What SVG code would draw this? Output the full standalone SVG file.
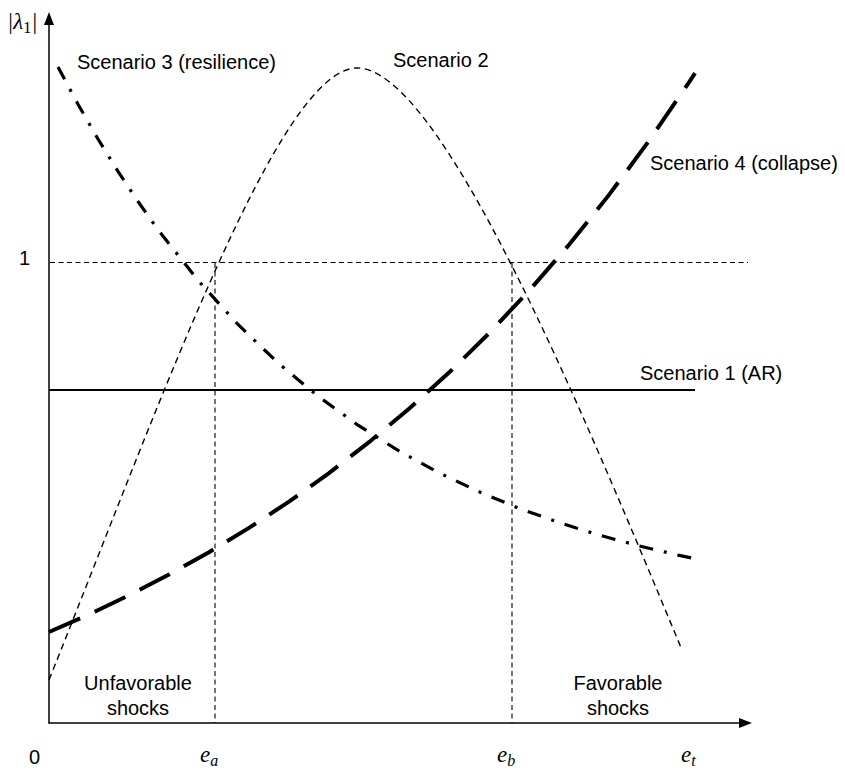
<svg xmlns="http://www.w3.org/2000/svg" width="845" height="773" viewBox="0 0 845 773">
<style>
.lbl{font-family:"Liberation Sans",Arial,sans-serif;font-size:20px;fill:#000}
.math{font-family:"Liberation Serif","DejaVu Serif",serif;font-style:italic;font-size:23px;fill:#000}
.sub{font-size:16px}
.up{font-style:normal}
.axis{stroke:#000;stroke-width:1.5;fill:none}
.guide{stroke:#000;stroke-width:1.1;fill:none;stroke-dasharray:5 3.5}
.s1{stroke:#000;stroke-width:2.2;fill:none}
.s2{stroke:#000;stroke-width:1.4;fill:none;stroke-dasharray:6.5 4.5}
.s3{stroke:#000;stroke-width:3.2;fill:none;stroke-dasharray:14 11 3 11}
.s4{stroke:#000;stroke-width:4;fill:none;stroke-dasharray:34 16}
</style>
<rect width="845" height="773" fill="#fff"/>
<g id="axes">
<line class="axis" x1="49" y1="24" x2="49" y2="723.5"/>
<polygon points="49,12 44,25 54,25" fill="#000"/>
<line class="axis" x1="48.5" y1="723" x2="740" y2="723"/>
<polygon points="752,723 739,718 739,728" fill="#000"/>
<text class="math" x="7" y="29">|λ<tspan class="sub up" dy="4">1</tspan><tspan dy="-4">|</tspan></text>
<text class="lbl" x="29" y="764">0</text>
<text class="lbl" x="19" y="265">1</text>
<text class="math" x="200" y="762">e<tspan class="sub" dy="4">a</tspan></text>
<text class="math" x="497" y="762">e<tspan class="sub" dy="4">b</tspan></text>
<text class="math" x="681" y="762">e<tspan class="sub" dy="4">t</tspan></text>
</g>
<g id="connectors">
<line class="guide" x1="50" y1="262.5" x2="748" y2="262.5"/>
<line class="guide" x1="215" y1="263" x2="215" y2="723"/>
<line class="guide" x1="512" y1="263" x2="512" y2="723"/>
</g>
<g id="scenario1">
<line class="s1" x1="49" y1="390" x2="695" y2="390"/>
<text class="lbl" x="640" y="380">Scenario 1 (AR)</text>
</g>
<g id="scenario2">
<path class="s2" d="M49,680 C165,390 280,68 357,68 C440,68 578,400 682,650"/>
<text class="lbl" x="393" y="67">Scenario 2</text>
</g>
<g id="scenario3">
<polyline class="s3" points="58,67 78,104.3 98,139 118,171.4 138,201.5 158,229.7 198,280.4 238,324.5 278,362.9 318,396.2 358,425.2 398,450.4 438,472.3 478,491.3 518,507.9 558,522.2 598,534.7 638,545.6 678,555.1 700,559.8"/>
<text class="lbl" x="77" y="69">Scenario 3 (resilience)</text>
</g>
<g id="scenario4">
<polyline class="s4" points="49,632 89,614.4 129,595.3 169,574.6 209,552.2 249,527.9 289,501.6 329,473.1 369,442.2 409,408.8 449,372.6 489,333.3 529,290.8 569,244.8 609,194.9 649,140.8 689,82.3 695,73.1"/>
<text class="lbl" x="650" y="170">Scenario 4 (collapse)</text>
</g>
<g id="regions">
<text class="lbl" x="138" y="690" text-anchor="middle">Unfavorable</text>
<text class="lbl" x="138" y="715" text-anchor="middle">shocks</text>
<text class="lbl" x="618" y="690" text-anchor="middle">Favorable</text>
<text class="lbl" x="618" y="715" text-anchor="middle">shocks</text>
</g>
</svg>
